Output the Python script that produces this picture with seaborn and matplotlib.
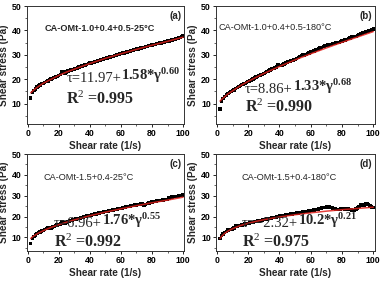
import numpy as np
import pandas as pd
import matplotlib
matplotlib.use("Agg")
import matplotlib.pyplot as plt
import seaborn as sns
from matplotlib.ticker import MultipleLocator

sns.set_theme(style="ticks")
plt.rcParams["font.family"] = ["Liberation Sans", "DejaVu Sans"]
plt.rcParams["mathtext.fontset"] = "custom"
plt.rcParams["mathtext.rm"] = "Liberation Serif"
plt.rcParams["mathtext.bf"] = "Liberation Serif:bold"
plt.rcParams["mathtext.it"] = "Liberation Serif:italic"

# ---------------- data ----------------
shear_rate = list(range(2, 101))

stress_a = [12.3, 14.6, 15.4, 16.0, 16.7, 17.2, 17.6, 18.1, 18.3, 18.6, 19.1, 19.3, 19.8, 20.1, 20.2,
            20.6, 20.9, 21.2, 21.4, 21.9, 23.2, 23.0, 22.6, 22.9, 23.3, 23.5, 23.8, 23.9, 24.2, 24.4,
            24.6, 24.9, 25.1, 25.4, 25.6, 25.8, 26.1, 26.3, 26.7, 26.6, 26.8, 27.1, 27.3, 27.5, 27.7,
            27.9, 28.1, 28.3, 28.5, 28.6, 28.9, 29.1, 29.3, 29.4, 29.7, 29.9, 30.0, 30.3, 30.4, 30.7,
            30.8, 31.0, 31.2, 31.4, 31.5, 31.8, 31.9, 32.1, 32.3, 32.4, 32.6, 32.8, 33.0, 33.1, 33.3,
            33.4, 33.7, 33.8, 34.0, 34.1, 34.3, 34.5, 34.6, 34.8, 34.9, 35.1, 35.3, 35.4, 35.6, 35.7,
            35.9, 36.1, 36.2, 36.4, 36.6, 36.9, 37.1, 37.4, 37.7]

stress_b = [7.7, 10.8, 12.0, 12.8, 13.5, 14.1, 14.6, 15.0, 15.3, 15.6, 16.1, 16.6, 17.0, 17.4, 17.7,
            18.0, 18.3, 18.6, 19.0, 19.3, 19.7, 20.0, 20.4, 20.8, 21.2, 21.4, 21.7, 22.0, 22.4, 22.7,
            23.1, 23.4, 23.8, 24.1, 24.4, 24.6, 25.0, 25.9, 25.6, 25.5, 25.8, 26.2, 26.6, 27.0, 27.3,
            27.4, 27.6, 27.8, 28.1, 28.5, 28.8, 29.2, 29.6, 29.9, 29.9, 30.0, 30.4, 30.8, 31.1, 31.3,
            31.6, 31.9, 32.1, 32.4, 32.7, 33.0, 33.3, 33.6, 33.8, 34.0, 34.2, 34.3, 34.5, 34.6, 34.8,
            35.0, 35.1, 35.4, 35.6, 35.9, 36.1, 36.3, 36.6, 36.9, 37.3, 37.5, 37.6, 37.6, 37.8, 38.2,
            38.5, 38.9, 39.2, 39.4, 39.6, 39.8, 39.9, 40.1, 40.6]

stress_c = [7.2, 9.4, 10.4, 11.2, 11.9, 12.4, 12.7, 13.0, 13.3, 13.8, 14.4, 14.5, 14.4, 14.6, 15.0,
            15.3, 15.6, 15.9, 16.2, 16.4, 17.6, 17.0, 16.9, 17.3, 17.6, 17.9, 18.1, 18.3, 18.6, 18.8,
            19.0, 19.2, 19.4, 19.6, 19.8, 20.0, 20.2, 20.4, 20.6, 20.8, 21.0, 21.2, 21.3, 21.5, 21.7,
            21.9, 22.0, 22.2, 22.4, 22.5, 22.7, 22.9, 23.0, 23.2, 23.3, 23.5, 23.7, 23.8, 24.0, 24.2,
            24.3, 24.5, 24.7, 24.8, 25.0, 25.2, 25.3, 25.5, 25.6, 25.8, 25.9, 26.0, 26.1, 25.2, 25.8,
            26.2, 26.5, 26.8, 27.0, 27.1, 27.3, 27.4, 27.6, 27.7, 27.8, 28.0, 28.1, 28.2, 28.3, 29.0,
            29.2, 29.3, 29.5, 29.6, 29.7, 29.9, 30.0, 30.2, 30.3]

stress_d = [9.4, 11.0, 11.7, 12.3, 12.8, 13.5, 13.8, 13.9, 14.0, 14.6, 15.6, 15.5, 15.6, 15.8, 16.0,
            16.2, 16.4, 16.6, 16.8, 17.0, 17.1, 17.3, 17.5, 17.6, 17.8, 17.9, 18.1, 18.3, 18.5, 18.6,
            18.8, 19.0, 19.1, 19.3, 19.5, 19.6, 19.8, 20.0, 20.2, 20.3, 20.4, 20.6, 20.8, 20.9, 21.0,
            21.2, 21.3, 21.4, 21.5, 21.7, 21.8, 21.9, 22.0, 22.2, 22.3, 22.4, 22.5, 22.7, 22.8, 23.0,
            23.1, 23.3, 23.5, 23.7, 23.9, 24.1, 24.3, 24.4, 24.5, 24.6, 24.5, 24.4, 24.2, 24.0, 23.7,
            23.5, 23.4, 23.7, 23.9, 23.8, 23.6, 23.5, 23.7, 23.5, 23.2, 23.0, 22.9, 23.6, 24.1, 24.8,
            25.5, 25.8, 25.6, 26.0, 26.3, 25.9, 25.0, 24.6, 24.3]

fit_x = [2, 3, 5, 7, 10, 15, 20, 25, 30, 40, 50, 60, 70, 80, 90, 100]
fit_a = [14.4, 15.0, 16.1, 17.0, 18.3, 19.9, 21.5, 22.9, 24.1, 26.4, 28.5, 30.4, 32.2, 33.9, 35.5, 37.2]
fit_b = [11.0, 11.7, 12.8, 13.9, 15.2, 17.3, 19.1, 20.7, 22.3, 25.2, 27.9, 30.4, 32.8, 35.1, 37.3, 39.5]
fit_c = [9.5, 10.2, 11.2, 12.1, 13.2, 14.8, 16.1, 17.3, 18.4, 20.4, 22.1, 23.7, 25.2, 26.6, 27.9, 29.3]
fit_d = [9.5, 10.5, 12.0, 13.0, 14.2, 15.7, 16.8, 17.7, 18.5, 19.8, 20.9, 21.8, 22.6, 23.3, 23.9, 24.5]

labels = ["CA-OMt-1.0+0.4+0.5-25°C", "CA-OMt-1.0+0.4+0.5-180°C",
          "CA-OMt-1.5+0.4-25°C", "CA-OMt-1.5+0.4-180°C"]
panel_tags = ["(a)", "(b)", "(c)", "(d)"]
eq_first = ["τ=11.97+", "τ=8.86+", "τ=6.96+", "τ=\u22122.32+"]
eq_second = ["1.58*γ", "1.33*γ", "1.76*γ", "10.2*γ"]
eq_exp = ["0.60", "0.68", "0.55", "0.21"]
r2_vals = ["0.995", "0.990", "0.992", "0.975"]

stresses = [stress_a, stress_b, stress_c, stress_d]
fits = [fit_a, fit_b, fit_c, fit_d]

# text placement (data coords) per panel
label_pos = [(11, 40.6), (1, 41.3), (10, 38.5), (16, 38.5)]
tag_y = [46, 46, 45, 45]
eq_pos = [(25, 19.0), (18, 14.2), (17, 14.8), (16, 15.2)]
r2_pos = [(25, 9.8), (18, 6.5), (17, 5.4), (16, 5.6)]
ylims = [(1.6, 50), (1.6, 50), (3.5, 50), (3.5, 50)]

# ---------------- figure ----------------
W, H = 383, 291
fig = plt.figure(figsize=(W / 100, H / 100), dpi=100)
fig.patch.set_facecolor("white")

boxes = [
    (26.7, 6, 184.3, 124),
    (216.0, 6, 374.5, 124),
    (26.7, 154, 184.3, 251),
    (216.0, 154, 374.5, 251),
]

for i in range(4):
    l, t, r, b = boxes[i]
    ax = fig.add_axes([l / W, 1 - b / H, (r - l) / W, (b - t) / H])
    df = pd.DataFrame({"x": shear_rate, "y": stresses[i]})
    sns.scatterplot(data=df, x="x", y="y", ax=ax, marker="s", s=6, color="black",
                    edgecolor="none", linewidth=0, zorder=2)
    dff = pd.DataFrame({"x": fit_x, "y": fits[i]})
    sns.lineplot(data=dff, x="x", y="y", ax=ax, color="#e0201b", linewidth=1.1,
                 zorder=3, alpha=0.85)

    ax.set_xlim(-0.6, 100.8)
    ax.set_ylim(*ylims[i])
    ax.xaxis.set_major_locator(MultipleLocator(20))
    ax.xaxis.set_minor_locator(MultipleLocator(10))
    ax.yaxis.set_major_locator(MultipleLocator(10))
    ax.yaxis.set_minor_locator(MultipleLocator(5))
    ax.set_yticks([10, 20, 30, 40, 50])
    ax.tick_params(axis="both", which="major", direction="out", length=2.2, width=0.6,
                   labelsize=6.3, pad=1.5, colors="black")
    ax.tick_params(axis="both", which="minor", direction="out", length=1.2, width=0.5)
    for lab in ax.get_xticklabels() + ax.get_yticklabels():
        lab.set_fontweight("bold")
    for sp in ax.spines.values():
        sp.set_visible(True)
        sp.set_linewidth(0.7)
        sp.set_color("#333333")

    ax.set_xlabel("Shear rate (1/s)", fontsize=7.2, fontweight="bold", labelpad=2)
    ax.set_ylabel("Shear stress (Pa)", fontsize=7.2, fontweight="bold", labelpad=2)

    ax.text(label_pos[i][0], label_pos[i][1], labels[i], fontsize=6.6,
            fontweight="bold" if i == 0 else "normal", va="center", ha="left")
    ax.text(99, tag_y[i], panel_tags[i], fontsize=7, fontweight="bold", ha="right", va="center")

    t1 = ax.text(eq_pos[i][0], eq_pos[i][1], eq_first[i], fontsize=10.5,
                 family=["Liberation Serif", "DejaVu Serif"], ha="left", va="baseline")
    ax.annotate(eq_second[i] + r"$^{\mathbf{" + eq_exp[i] + "}}$", xy=(1, 0), xycoords=t1,
                fontsize=10.5, fontweight="bold", family=["Liberation Serif", "DejaVu Serif"],
                ha="left", va="bottom")
    ax.text(r2_pos[i][0], r2_pos[i][1], r"R$^{2}$ =" + r2_vals[i], fontsize=11.5,
            fontweight="bold", family=["Liberation Serif", "DejaVu Serif"],
            ha="left", va="baseline")

fig.savefig("out.png", dpi=100, facecolor="white")
